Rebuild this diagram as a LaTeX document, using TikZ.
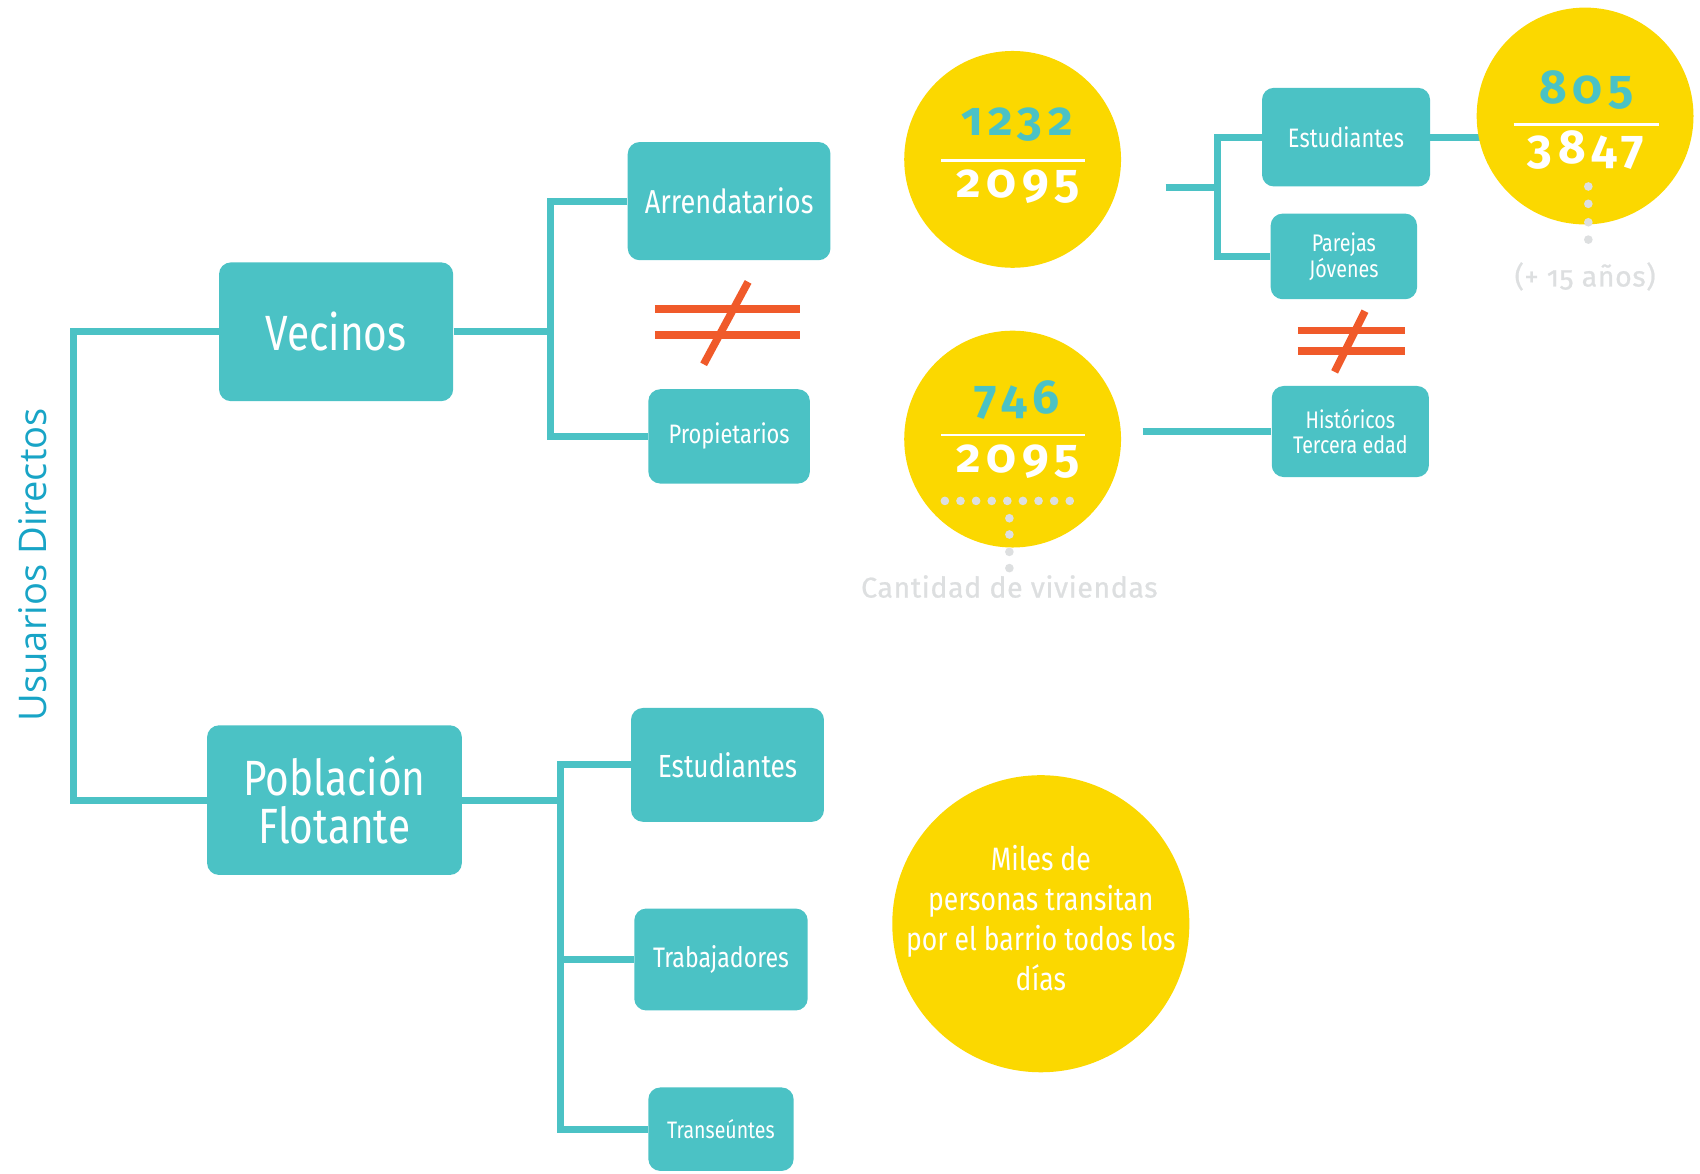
\documentclass[tikz,border=0pt]{standalone}
\usepackage{fontspec}
\setmainfont{Fira Sans}[FakeStretch=0.82]
\newfontfamily\numfont{Fira Sans}[Numbers=OldStyle, LetterSpace=12]
\newfontfamily\notefont{Fira Sans}[Numbers=OldStyle, LetterSpace=2, FakeBold=0.8]
\newfontfamily\titlefont{Open Sans}
\usepackage{xcolor}
\usetikzlibrary{positioning,calc,backgrounds}

\definecolor{boxteal}{RGB}{75,194,197}
\definecolor{circyellow}{RGB}{251,216,0}
\definecolor{neqorange}{RGB}{240,90,42}
\definecolor{notegrey}{RGB}{221,223,224}
\definecolor{titleblue}{RGB}{24,164,198}
\newcommand{\fsz}[2]{\fontsize{#1}{#2}\selectfont}

\begin{document}
\begin{tikzpicture}[
    x=0.2mm, y=-0.2mm,
    bx/.style={fill=boxteal, rounded corners=2.2mm, text=white, align=center, inner sep=0pt},
    ln/.style={draw=boxteal, line width=1.3mm},
    cir/.style={circle, fill=circyellow, inner sep=0pt, minimum size=40mm},
    frl/.style={draw=white, line width=0.45mm},
    numtop/.style={anchor=base, text=boxteal, font=\numfont\bfseries\fsz{25}{25}},
    numbot/.style={anchor=base, text=white, font=\numfont\bfseries\fsz{25}{25}},
    neq/.style={draw=neqorange, line width=1.4mm},
    gdot/.style={fill=notegrey},
    note/.style={text=notegrey, font=\notefont\fsz{15}{18}},
]
    \useasboundingbox (0,0) rectangle (1568,1082);

    % ---------- titulo ----------
    \node[rotate=90, text=titleblue, font=\titlefont\fsz{20}{24}] (usu) at (30,521) {Usuarios Directos};

    % ---------- cajas ----------
    \node[bx, minimum width=43.2mm, minimum height=25.6mm, font=\fsz{26}{28}] (vec) at (310,306) {Vecinos};
    \node[bx, minimum width=47mm, minimum height=27.6mm, font=\fsz{26}{25.5}] (pob) at (308.5,738) {Población\\Flotante};
    \node[bx, minimum width=37.4mm, minimum height=21.8mm, font=\fsz{17.4}{20}] (arr) at (672.5,185.5) {Arrendatarios};
    \node[bx, minimum width=29.8mm, minimum height=17.4mm, font=\fsz{14}{16}] (pro) at (672.5,402.5) {Propietarios};
    \node[bx, minimum width=35.6mm, minimum height=21mm, font=\fsz{16.8}{19}] (est) at (671,705.5) {Estudiantes};
    \node[bx, minimum width=32mm, minimum height=18.8mm, font=\fsz{14.8}{17}] (tra) at (665,885) {Trabajadores};
    \node[bx, minimum width=26.8mm, minimum height=15.4mm, font=\fsz{12.5}{15}] (tse) at (665,1041.5) {Transeúntes};
    \node[bx, minimum width=31mm, minimum height=18.2mm, font=\fsz{14}{16}] (estr) at (1241.5,126.5) {Estudiantes};
    \node[bx, minimum width=27mm, minimum height=15.8mm, font=\fsz{12.6}{12.5}] (par) at (1239.5,236.5) {Parejas\\Jóvenes};
    \node[bx, minimum width=29mm, minimum height=16.8mm, font=\fsz{12.6}{13}] (his) at (1245.5,398) {Históricos\\Tercera edad};

    % ---------- circulos ----------
    \node[cir] (c1) at (934,147) {};
    \node[numtop] (c1a) at ($(c1)+(4,-22)$) {1232};
    \node[numbot] (c1b) at ($(c1)+(5,35)$) {2095};
    \draw[frl] ($(c1)+(-66,1)$) -- ($(c1)+(67,1)$);

    \node[cir] (c2) at (934,405) {};
    \node[numtop] (c2a) at ($(c2)+(4,-24)$) {746};
    \node[numbot] (c2b) at ($(c2)+(5,31)$) {2095};
    \draw[frl] ($(c2)+(-66,-4)$) -- ($(c2)+(67,-4)$);

    \node[cir] (c3) at (1462,107) {};
    \node[numtop] (c3a) at ($(c3)+(1,-12)$) {805};
    \node[numbot] (c3b) at ($(c3)+(1,44)$) {3847};
    \draw[frl] ($(c3)+(-66,8)$) -- ($(c3)+(68,8)$);

    \node[cir, minimum size=54.8mm] (c4) at (960,852) {};
    \node[text=white, align=center, font=\fsz{17}{21}] (c4t) at ($(c4)+(0,-5)$)
        {Miles de\\personas transitan\\por el barrio todos los\\días};

    % ---------- puntos y notas ----------
    \foreach \i in {0,...,8}
        \fill[gdot] ($(c2)+(-62.5+14.4*\i,57)$) circle (0.8mm);
    \foreach \dy in {73,88,104,119}
        \fill[gdot] ($(c2)+(-3,\dy)$) circle (0.8mm);
    \node[note] (viv) at (931,541) {Cantidad de viviendas};
    \foreach \dy in {65,81,98,114}
        \fill[gdot] ($(c3)+(3,\dy)$) circle (0.8mm);
    \node[note] (anos) at (1462,255) {(+ 15 años)};

    % ---------- conectores ----------
    \coordinate (ubus) at (68,520);
    \draw[ln] (vec.west) -| (ubus) |- (pob.west);

    \coordinate (vbus) at (508,306);
    \draw[ln] (vec.east) -- (vbus);
    \draw[ln] (arr.west) -| (vbus) |- (pro.west);

    \coordinate (pbus) at (517,738);
    \draw[ln] (pob.east) -- (pbus);
    \draw[ln] (est.west) -| (pbus) |- (tse.west);
    \draw[ln] (tra.west) -- (tra.west -| pbus);

    \coordinate (c1x) at (1075,173);
    \coordinate (rbus) at (1123,173);
    \draw[ln] (c1x) -- (rbus);
    \draw[ln] (estr.west) -| (rbus) |- (par.west);
    \begin{pgfonlayer}{background}
        \draw[ln] (estr.east) -- (estr.east -| c3.center);
    \end{pgfonlayer}

    \coordinate (c2x) at (1054,398);
    \draw[ln] (c2x) -- (his.west);

    % ---------- distinto de ----------
    \coordinate (n1) at (671,297);
    \draw[neq] ($(n1)+(-67,-12)$) -- ($(n1)+(67,-12)$);
    \draw[neq] ($(n1)+(-67,12)$) -- ($(n1)+(67,12)$);
    \draw[neq] ($(n1)+(-22,39)$) -- ($(n1)+(19,-37)$);

    \coordinate (n2) at (1246,315);
    \draw[neq] ($(n2)+(-49,-10)$) -- ($(n2)+(50,-10)$);
    \draw[neq] ($(n2)+(-49,9)$) -- ($(n2)+(50,9)$);
    \draw[neq] ($(n2)+(-15,28)$) -- ($(n2)+(13,-28)$);
\end{tikzpicture}
\end{document}
